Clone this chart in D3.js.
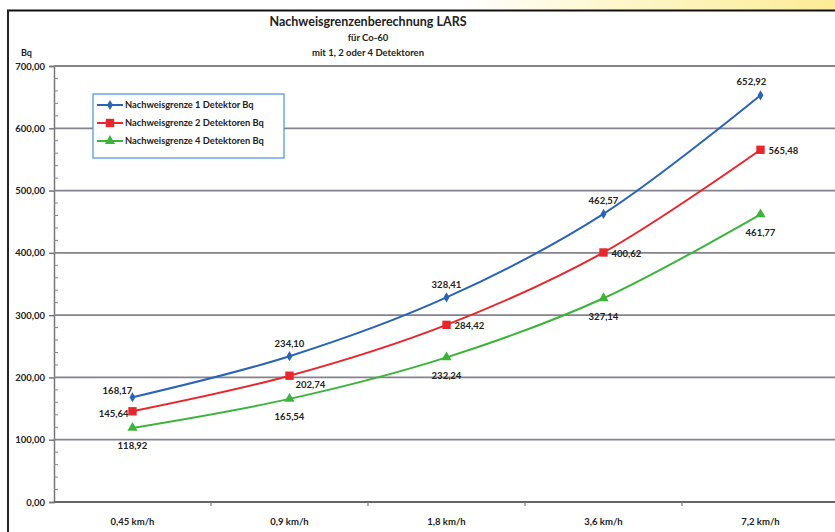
<!DOCTYPE html>
<html>
<head>
<meta charset="utf-8">
<script src="https://cdn.jsdelivr.net/npm/d3@7"></script>
<style>
  body { margin: 0; background: #fff; }
  svg text { font-family: Lato, "Open Sans", sans-serif; font-weight: bold; fill: #222; }
</style>
</head>
<body>
<div id="chart-area"></div>
<script>
// Daten aus dem Diagramm
var categories = ["0,45 km/h", "0,9 km/h", "1,8 km/h", "3,6 km/h", "7,2 km/h"];
var seriesNames = ["Nachweisgrenze 1 Detektor Bq", "Nachweisgrenze 2 Detektoren Bq", "Nachweisgrenze 4 Detektoren Bq"];
var values1 = [168.17, 234.10, 328.41, 462.57, 652.92];
var values2 = [145.64, 202.74, 284.42, 400.62, 565.48];
var values4 = [118.92, 165.54, 232.24, 327.14, 461.77];
var yTicks = [0, 100, 200, 300, 400, 500, 600, 700];
var titleLines = ["Nachweisgrenzenberechnung LARS", "für Co-60", "mit 1, 2 oder 4 Detektoren"];

var colors = ["#2b63b6", "#e8262b", "#3cb43c"];
var symbols = [d3.symbolDiamond, d3.symbolSquare, d3.symbolTriangle];
var symbolSizes = [30, 70, 45];

var W = 835, H = 532;
var svg = d3.select("#chart-area").append("svg")
    .attr("width", W)
    .attr("height", H);

// gelber Streifen oben
var grad = svg.append("defs").append("linearGradient")
    .attr("id", "topgrad").attr("x1", "0%").attr("x2", "100%");
grad.append("stop").attr("offset", "0%").attr("stop-color", "#ffffff");
grad.append("stop").attr("offset", "55%").attr("stop-color", "#ffffff");
grad.append("stop").attr("offset", "75%").attr("stop-color", "#fdf6c8");
grad.append("stop").attr("offset", "100%").attr("stop-color", "#fcec96");
svg.append("rect").attr("x", 0).attr("y", 0).attr("width", W).attr("height", 10)
    .attr("fill", "url(#topgrad)");

// Rahmen
svg.append("line").attr("x1", 7).attr("x2", W).attr("y1", 10.5).attr("y2", 10.5)
    .attr("stroke", "#111").attr("stroke-width", 2);
svg.append("line").attr("x1", 8).attr("x2", 8).attr("y1", 10).attr("y2", H)
    .attr("stroke", "#222").attr("stroke-width", 2);

var x = d3.scaleBand()
    .domain(categories)
    .range([54, 54 + 157 * 5]);

var y = d3.scaleLinear()
    .domain([0, 700])
    .range([502, 66]);

var loc = d3.formatLocale({decimal: ",", thousands: ".", grouping: [3], currency: ["", "€"]});
var fmt = loc.format(".2f");

// Gitterlinien + Y-Achse
var yAxis = svg.append("g")
    .attr("transform", "translate(54,0)")
    .call(d3.axisLeft(y).tickValues(yTicks).tickFormat(fmt).tickSize(5).tickPadding(4));
yAxis.select(".domain").attr("stroke", "#777").attr("stroke-width", 1.5);
yAxis.selectAll(".tick line").attr("stroke", "#777").attr("stroke-width", 1.5);
yAxis.selectAll("text").attr("font-size", 9.5).style("fill", "#222");

svg.append("g").selectAll("line")
    .data(yTicks)
    .enter().append("line")
    .attr("x1", 54).attr("x2", W)
    .attr("y1", function(d) { return y(d); })
    .attr("y2", function(d) { return y(d); })
    .attr("stroke", function(d) { return d === 0 ? "#666" : "#84828e"; })
    .attr("stroke-width", 1.8);

// kleine Zwischenstriche
svg.append("g").selectAll("line")
    .data(d3.range(0, 701, 20).filter(function(d) { return d % 100 !== 0; }))
    .enter().append("line")
    .attr("x1", 54).attr("x2", 58)
    .attr("y1", function(d) { return y(d); })
    .attr("y2", function(d) { return y(d); })
    .attr("stroke", "#888").attr("stroke-width", 1);

// X-Achse
var xAxis = svg.append("g")
    .attr("transform", "translate(0,502)")
    .call(d3.axisBottom(x).tickSize(0).tickPadding(16));
xAxis.select(".domain").remove();
xAxis.selectAll("text").attr("font-size", 9.5).style("fill", "#222");

svg.append("g").selectAll("line")
    .data(categories.slice(1))
    .enter().append("line")
    .attr("x1", function(d) { return x(d); })
    .attr("x2", function(d) { return x(d); })
    .attr("y1", 502).attr("y2", 506)
    .attr("stroke", "#777").attr("stroke-width", 1.2);

// Titel
svg.append("g").selectAll("text")
    .data(titleLines)
    .enter().append("text")
    .attr("x", 368)
    .attr("y", function(d, i) { return 26 + i * 15; })
    .attr("text-anchor", "middle")
    .attr("font-size", function(d, i) { return i === 0 ? 12.5 : 9.5; })
    .text(function(d) { return d; });

svg.append("text").attr("x", 21).attr("y", 56).attr("font-size", 9).text("Bq");

// Linien
var series = [values1, values2, values4];
var line = d3.line()
    .x(function(d, i) { return x(categories[i]) + x.bandwidth() / 2; })
    .y(function(d) { return y(d); })
    .curve(d3.curveCatmullRom.alpha(0.5));

series.forEach(function(vals, s) {
    svg.append("path")
        .datum(vals)
        .attr("d", line)
        .attr("fill", "none")
        .attr("stroke", colors[s])
        .attr("stroke-width", 2);

    svg.append("g").selectAll("path")
        .data(vals)
        .enter().append("path")
        .attr("transform", function(d, i) {
            return "translate(" + (x(categories[i]) + x.bandwidth() / 2) + "," + y(d) + ")";
        })
        .attr("d", d3.symbol().type(symbols[s]).size(symbolSizes[s]))
        .attr("fill", colors[s]);
});

// Beschriftung der Punkte
function labelPos(s, i) {
    if (s === 0) {
        if (i === 0) return {dx: -15, dy: -7, a: "middle"};
        if (i === 4) return {dx: -9, dy: -14, a: "middle"};
        return {dx: 0, dy: -13, a: "middle"};
    }
    if (s === 1) {
        if (i === 0) return {dx: -4, dy: 2, a: "end"};
        if (i === 1) return {dx: 6, dy: 9, a: "start"};
        return {dx: 8, dy: 1, a: "start"};
    }
    return {dx: 0, dy: 18, a: "middle"};
}

series.forEach(function(vals, s) {
    svg.append("g").selectAll("text")
        .data(vals)
        .enter().append("text")
        .attr("x", function(d, i) { return x(categories[i]) + x.bandwidth() / 2 + labelPos(s, i).dx; })
        .attr("y", function(d, i) { return y(d) + labelPos(s, i).dy; })
        .attr("dy", "0.35em")
        .attr("text-anchor", function(d, i) { return labelPos(s, i).a; })
        .attr("font-size", 9.5)
        .text(function(d) { return fmt(d); });
});

// Legende
var legend = svg.append("g").attr("transform", "translate(93,94)");
legend.append("rect")
    .attr("width", 191).attr("height", 64)
    .attr("fill", "#fff")
    .attr("stroke", "#4a8fdc").attr("stroke-width", 1.2);

seriesNames.forEach(function(name, s) {
    var ly = 11 + s * 18;
    legend.append("line")
        .attr("x1", 4).attr("x2", 30).attr("y1", ly).attr("y2", ly)
        .attr("stroke", colors[s]).attr("stroke-width", 2);
    legend.append("path")
        .attr("transform", "translate(17," + ly + ")")
        .attr("d", d3.symbol().type(symbols[s]).size(symbolSizes[s]))
        .attr("fill", colors[s]);
    legend.append("text")
        .attr("x", 32).attr("y", ly).attr("dy", "0.35em")
        .attr("font-size", 9.3)
        .text(name);
});
</script>
</body>
</html>
